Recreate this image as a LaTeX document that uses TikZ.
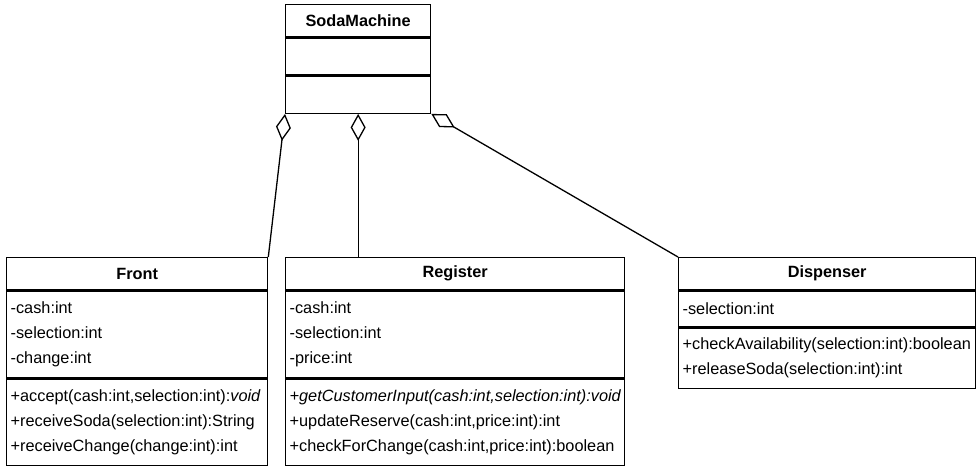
\documentclass[tikz,border=0pt]{standalone}
\usepackage{fontspec}
\setmainfont{Liberation Sans}
\usetikzlibrary{arrows.meta,positioning}

\begin{document}
\begin{tikzpicture}[
  x=1pt, y=-1pt,
  classhead/.style={draw, line width=1.3pt, anchor=north west, minimum height=32pt,
    inner sep=0pt, font=\fontsize{16.3}{25}\selectfont\bfseries},
  classbody/.style={draw, line width=1.3pt, align=left, inner xsep=4pt, inner ysep=0pt,
    font=\fontsize{16.3}{25}\selectfont},
  aggr/.style={{Diamond[open, length=27pt, width=15pt]}-, line width=1.3pt}
]
\useasboundingbox (0,0) rectangle (977,466);

\node[classhead, minimum width=145pt] (soda) at (285,4) {SodaMachine};
\node[classbody, minimum width=145pt, minimum height=37pt, below=0pt of soda] (sodaattr) {};
\node[classbody, minimum width=145pt, minimum height=37pt, below=0pt of sodaattr] (sodaops) {};

\node[classhead, minimum width=261pt] (front) at (6,257) {Front};
\node[classbody, text width=253pt, minimum height=87pt, below=0pt of front] (frontattr)
  {-cash:int\\-selection:int\\-change:int};
\node[classbody, text width=253pt, minimum height=86pt, below=0pt of frontattr] (frontops)
  {+accept(cash:int,selection:int):\textit{void}\\+receiveSoda(selection:int):String\\+receiveChange(change:int):int};

\node[classhead, minimum width=339pt] (register) at (285,257) {Register};
\node[classbody, text width=331pt, minimum height=87pt, below=0pt of register] (registerattr)
  {-cash:int\\-selection:int\\-price:int};
\node[classbody, text width=331pt, minimum height=86pt, below=0pt of registerattr] (registerops)
  {\textit{+getCustomerInput(cash:int,selection:int):void}\\+updateReserve(cash:int,price:int):int\\+checkForChange(cash:int,price:int):boolean};

\node[classhead, minimum width=297pt] (dispenser) at (678,257) {Dispenser};
\node[classbody, text width=289pt, minimum height=36pt, below=0pt of dispenser] (dispenserattr)
  {-selection:int};
\node[classbody, text width=289pt, minimum height=60pt, below=0pt of dispenserattr] (dispenserops)
  {+checkAvailability(selection:int):boolean\\+releaseSoda(selection:int):int};

\draw[aggr] (sodaops.south west) -- (front.north east);
\draw[aggr] (sodaops.south) -- (sodaops.south |- register.north);
\draw[aggr] (sodaops.south east) -- (dispenser.north west);
\end{tikzpicture}
\end{document}
